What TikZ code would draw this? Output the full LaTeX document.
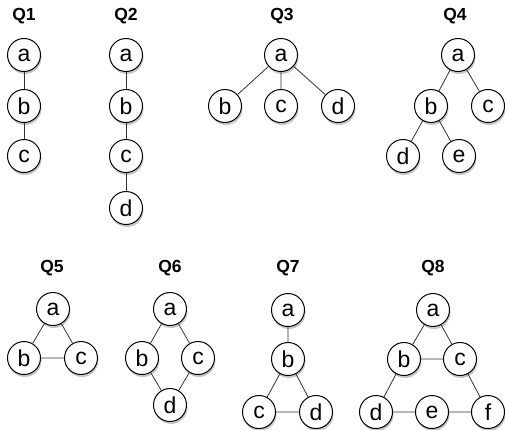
\documentclass[tikz,border=0pt]{standalone}
\usepackage{fontspec}
\setmainfont{Liberation Sans}
\usetikzlibrary{shadows}
\begin{document}
\begin{tikzpicture}[x=1pt,y=-1pt,
  vtx/.style={circle,draw=black,line width=1pt,fill=white,minimum size=33pt,inner sep=0pt,
    font=\fontsize{23}{23}\selectfont,
    drop shadow={shadow xshift=1pt,shadow yshift=-2.5pt,opacity=0.45}},
  ttl/.style={font=\fontsize{17.5}{17.5}\selectfont\bfseries},
  edge/.style={draw=black!80,line width=0.8pt}]
\useasboundingbox (0,0) rectangle (505,429);
% Q1
\node[ttl] (t1) at (24,16) {Q1};
\node[vtx] (q1a) at (24,55) {a};
\node[vtx] (q1b) at (24,106) {b};
\node[vtx] (q1c) at (24,156) {c};
\draw[edge] (q1a)--(q1b) (q1b)--(q1c);
% Q2
\node[ttl] (t2) at (126,16) {Q2};
\node[vtx] (q2a) at (126,55) {a};
\node[vtx] (q2b) at (126,106) {b};
\node[vtx] (q2c) at (126,156) {c};
\node[vtx] (q2d) at (126,208) {d};
\draw[edge] (q2a)--(q2b) (q2b)--(q2c) (q2c)--(q2d);
% Q3
\node[ttl] (t3) at (282,16) {Q3};
\node[vtx] (q3a) at (281,55) {a};
\node[vtx] (q3b) at (225,106) {b};
\node[vtx] (q3c) at (281,106) {c};
\node[vtx] (q3d) at (338,106) {d};
\draw[edge] (q3a)--(q3b) (q3a)--(q3c) (q3a)--(q3d);
% Q4
\node[ttl] (t4) at (455,16) {Q4};
\node[vtx] (q4a) at (458,55) {a};
\node[vtx] (q4b) at (431,106) {b};
\node[vtx] (q4c) at (488,106) {c};
\node[vtx] (q4d) at (403,156) {d};
\node[vtx] (q4e) at (459,156) {e};
\draw[edge] (q4a)--(q4b) (q4a)--(q4c) (q4b)--(q4d) (q4b)--(q4e);
% Q5
\node[ttl] (t5) at (52,268) {Q5};
\node[vtx] (q5a) at (53,309) {a};
\node[vtx] (q5b) at (24,358) {b};
\node[vtx] (q5c) at (81,358) {c};
\draw[edge] (q5a)--(q5b) (q5a)--(q5c) (q5b)--(q5c);
% Q6
\node[ttl] (t6) at (170,268) {Q6};
\node[vtx] (q6a) at (170,309) {a};
\node[vtx] (q6b) at (142,358) {b};
\node[vtx] (q6c) at (198,358) {c};
\node[vtx] (q6d) at (170,405) {d};
\draw[edge] (q6a)--(q6b) (q6a)--(q6c) (q6b)--(q6d) (q6c)--(q6d);
% Q7
\node[ttl] (t7) at (288,268) {Q7};
\node[vtx] (q7a) at (288,310) {a};
\node[vtx] (q7b) at (288,359) {b};
\node[vtx] (q7c) at (259,412) {c};
\node[vtx] (q7d) at (316,412) {d};
\draw[edge] (q7a)--(q7b) (q7b)--(q7c) (q7b)--(q7d) (q7c)--(q7d);
% Q8
\node[ttl] (t8) at (433,268) {Q8};
\node[vtx] (q8a) at (433,310) {a};
\node[vtx] (q8b) at (404,359) {b};
\node[vtx] (q8c) at (460,359) {c};
\node[vtx] (q8d) at (376,412) {d};
\node[vtx] (q8e) at (432,412) {e};
\node[vtx] (q8f) at (488,412) {f};
\draw[edge] (q8a)--(q8b) (q8a)--(q8c) (q8b)--(q8c) (q8b)--(q8d) (q8c)--(q8f) (q8d)--(q8e) (q8e)--(q8f);
\end{tikzpicture}
\end{document}
